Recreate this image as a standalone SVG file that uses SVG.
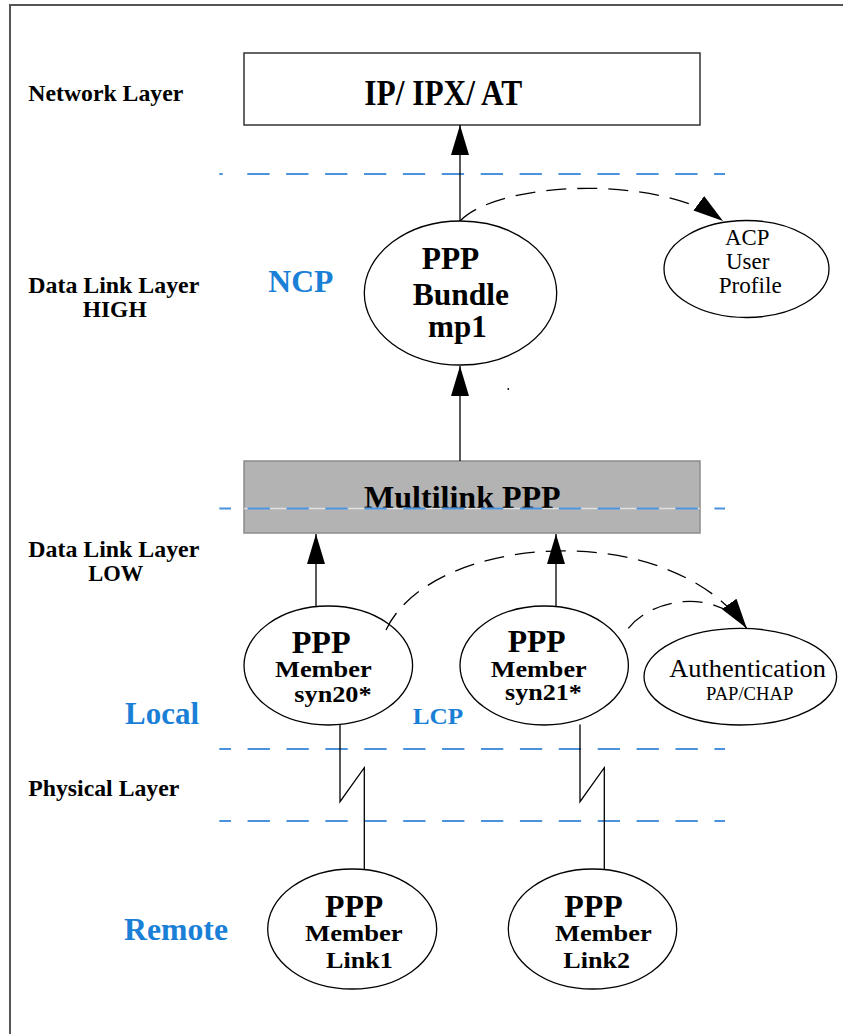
<svg xmlns="http://www.w3.org/2000/svg" width="843" height="1034" viewBox="0 0 843 1034">
  <defs>
    <style>
      .lbl { font-family: "Liberation Serif", "Times New Roman", serif; font-weight: bold; font-size: 23px; fill: #000; }
      .blue { font-family: "Liberation Serif", "Times New Roman", serif; font-weight: bold; fill: #1a7fd6; }
      .bt { font-family: "Liberation Serif", "Times New Roman", serif; font-weight: bold; fill: #000; }
      .rt { font-family: "Liberation Serif", "Times New Roman", serif; font-weight: normal; fill: #000; }
      .node { fill: #fff; stroke: #000; stroke-width: 1.3; }
      .wire { fill: none; stroke: #000; stroke-width: 1.3; }
      .dash { fill: none; stroke: #000; stroke-width: 1.3; stroke-dasharray: 20 11; }
      .layer { stroke: #4a92db; stroke-width: 2; stroke-dasharray: 22.3 16.6; }
    </style>
    <marker id="arrow" markerUnits="userSpaceOnUse" markerWidth="30" markerHeight="18" viewBox="0 0 30 18" refX="30" refY="9" orient="auto">
      <path d="M0,0 L30,9 L0,18 z" fill="#000"/>
    </marker>
  </defs>

  <!-- outer frame -->
  <path d="M10,1034 V5 H843" fill="none" stroke="#555" stroke-width="2"/>

  <!-- layer labels -->
  <g id="layer-labels">
    <text class="lbl" x="28.3" y="101" textLength="155" lengthAdjust="spacingAndGlyphs">Network Layer</text>
    <text class="lbl" x="28.3" y="292.7" textLength="171" lengthAdjust="spacingAndGlyphs">Data Link Layer</text>
    <text class="lbl" x="82.7" y="316.7" textLength="64" lengthAdjust="spacingAndGlyphs">HIGH</text>
    <text class="lbl" x="28.3" y="557.3" textLength="171" lengthAdjust="spacingAndGlyphs">Data Link Layer</text>
    <text class="lbl" x="88.3" y="580.7" textLength="55" lengthAdjust="spacingAndGlyphs">LOW</text>
    <text class="lbl" x="28.3" y="796" textLength="151" lengthAdjust="spacingAndGlyphs">Physical Layer</text>
    <text class="blue" x="268.3" y="292.3" font-size="31" textLength="65" lengthAdjust="spacingAndGlyphs">NCP</text>
    <text class="blue" x="125" y="724" font-size="31" textLength="74" lengthAdjust="spacingAndGlyphs">Local</text>
    <text class="blue" x="412.7" y="724" font-size="24" textLength="50.6" lengthAdjust="spacingAndGlyphs">LCP</text>
    <text class="blue" x="124" y="940" font-size="31" textLength="104" lengthAdjust="spacingAndGlyphs">Remote</text>
  </g>

  <!-- network layer box -->
  <g id="ip-box">
    <rect x="244" y="53" width="456" height="72" fill="#fff" stroke="#333" stroke-width="1.5"/>
    <text class="bt" x="364.3" y="105" font-size="35" textLength="158" lengthAdjust="spacingAndGlyphs">IP/ IPX/ AT</text>
  </g>

  <!-- multilink box -->
  <g id="multilink">
    <rect x="244" y="461" width="456" height="72" fill="#b3b3b3" stroke="#8c8c8c" stroke-width="1.5"/>
    <text class="bt" x="364" y="508.3" font-size="31" textLength="196.7" lengthAdjust="spacingAndGlyphs">Multilink PPP</text>
  </g>

  <!-- layer boundaries -->
  <g id="boundaries">
    <line x1="244" y1="508.5" x2="700" y2="508.5" stroke="#fff" stroke-opacity="0.6" stroke-width="1.3"/>
    <line x1="219.3" y1="174" x2="222.7" y2="174" stroke="#4a92db" stroke-width="2"/>
    <line class="layer" x1="247.3" y1="174" x2="725" y2="174"/>
    <line class="layer" x1="219.3" y1="508.5" x2="725" y2="508.5" stroke-dashoffset="10.6"/>
    <line class="layer" x1="219.3" y1="749" x2="725" y2="749" stroke-dashoffset="10.6"/>
    <line class="layer" x1="219.3" y1="821" x2="725" y2="821" stroke-dashoffset="10.6"/>
  </g>

  <!-- nodes -->
  <g id="bundle">
    <ellipse class="node" cx="460.5" cy="293" rx="96.2" ry="72"/>
    <text class="bt" x="421.7" y="269.3" font-size="31" textLength="57.6" lengthAdjust="spacingAndGlyphs">PPP</text>
    <text class="bt" x="412.7" y="305" font-size="31" textLength="96.3" lengthAdjust="spacingAndGlyphs">Bundle</text>
    <text class="bt" x="428" y="336.7" font-size="31" textLength="58.7" lengthAdjust="spacingAndGlyphs">mp1</text>
  </g>

  <g id="acp">
    <ellipse class="node" cx="746.5" cy="269" rx="82.5" ry="48.5"/>
    <text class="rt" x="725" y="245" font-size="23" textLength="44.3" lengthAdjust="spacingAndGlyphs">ACP</text>
    <text class="rt" x="726" y="269" font-size="23" textLength="43.3" lengthAdjust="spacingAndGlyphs">User</text>
    <text class="rt" x="718.7" y="293.3" font-size="23" textLength="63" lengthAdjust="spacingAndGlyphs">Profile</text>
  </g>

  <g id="syn20">
    <ellipse class="node" cx="328.3" cy="665.5" rx="84.3" ry="59.5"/>
    <text class="bt" x="291.7" y="652.7" font-size="31" textLength="59" lengthAdjust="spacingAndGlyphs">PPP</text>
    <text class="bt" x="275" y="676.7" font-size="24" textLength="96.7" lengthAdjust="spacingAndGlyphs">Member</text>
    <text class="bt" x="294.3" y="702.3" font-size="24" textLength="77.3" lengthAdjust="spacingAndGlyphs">syn20*</text>
  </g>

  <g id="syn21">
    <ellipse class="node" cx="544.2" cy="665.5" rx="84.2" ry="59.5"/>
    <text class="bt" x="507.7" y="651.7" font-size="31" textLength="58" lengthAdjust="spacingAndGlyphs">PPP</text>
    <text class="bt" x="490.7" y="676.7" font-size="24" textLength="96" lengthAdjust="spacingAndGlyphs">Member</text>
    <text class="bt" x="505" y="700" font-size="24" textLength="76.7" lengthAdjust="spacingAndGlyphs">syn21*</text>
  </g>

  <g id="auth">
    <ellipse class="node" cx="740.3" cy="676.7" rx="96.3" ry="48.3"/>
    <text class="rt" x="669.3" y="676.7" font-size="25" textLength="156.7" lengthAdjust="spacingAndGlyphs">Authentication</text>
    <text class="rt" x="706" y="700" font-size="18" textLength="87.3" lengthAdjust="spacingAndGlyphs">PAP/CHAP</text>
  </g>

  <g id="link1">
    <ellipse class="node" cx="352.2" cy="929" rx="84.5" ry="60"/>
    <text class="bt" x="325" y="916.7" font-size="31" textLength="58.3" lengthAdjust="spacingAndGlyphs">PPP</text>
    <text class="bt" x="305" y="941" font-size="24" textLength="97.7" lengthAdjust="spacingAndGlyphs">Member</text>
    <text class="bt" x="326" y="967.7" font-size="24" textLength="66.7" lengthAdjust="spacingAndGlyphs">Link1</text>
  </g>

  <g id="link2">
    <ellipse class="node" cx="592.5" cy="929" rx="84.2" ry="60"/>
    <text class="bt" x="564.3" y="916.7" font-size="31" textLength="58.4" lengthAdjust="spacingAndGlyphs">PPP</text>
    <text class="bt" x="555" y="941" font-size="24" textLength="96.7" lengthAdjust="spacingAndGlyphs">Member</text>
    <text class="bt" x="563.3" y="967.7" font-size="24" textLength="66.7" lengthAdjust="spacingAndGlyphs">Link2</text>
  </g>

  <!-- connectors -->
  <g id="connectors">
    <line class="wire" x1="460" y1="221" x2="460" y2="125" marker-end="url(#arrow)"/>
    <line class="wire" x1="460" y1="461" x2="460" y2="366" marker-end="url(#arrow)"/>
    <line class="wire" x1="316" y1="606" x2="316" y2="534" marker-end="url(#arrow)"/>
    <line class="wire" x1="556" y1="606.6" x2="556" y2="534" marker-end="url(#arrow)"/>
    <path class="dash" d="M460,221 C500,180 660,175 723,221" marker-end="url(#arrow)"/>
    <path class="dash" d="M386,630 C430,535 665,515 746.7,628.3" marker-end="url(#arrow)"/>
    <path class="dash" d="M628.3,628.3 C655,595 720,590 746.7,628.3"/>
    <path class="wire" d="M340,724.4 V801.7 L364.3,767.7 V869.3"/>
    <path class="wire" d="M580,724.4 V801.7 L604.3,767.7 V869.3"/>
    <circle cx="508.3" cy="389" r="0.9" fill="#000"/>
  </g>
</svg>
